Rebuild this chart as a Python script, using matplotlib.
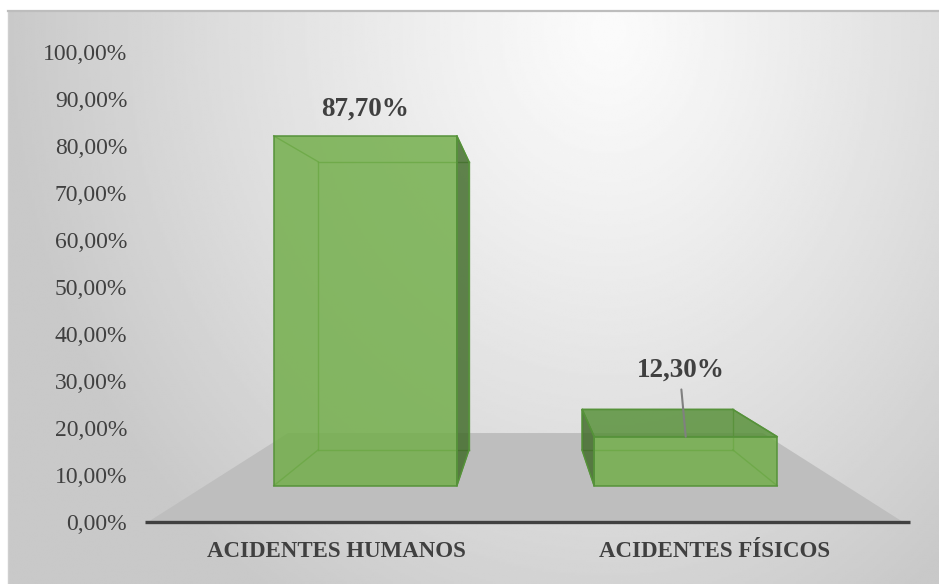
import numpy as np
import matplotlib
matplotlib.use("Agg")
import matplotlib.pyplot as plt
from matplotlib.patches import Polygon

plt.rcParams["font.family"] = ["Liberation Serif", "DejaVu Serif"]

# ---- data ----
categories = ["ACIDENTES HUMANOS", "ACIDENTES FÍSICOS"]
values = [87.70, 12.30]
y_ticks = [0, 10, 20, 30, 40, 50, 60, 70, 80, 90, 100]

# ---- 3D look (perspective) ----
VP_X, VP_Y = 1.0, 51.0          # vanishing point in data units
FLOOR_DEPTH = 0.59
BAR_Z = (0.178, 0.431)           # front / back depth of each bar
GAP_WIDTH = 0.75                 # gap between bars, fraction of bar width

FACE = "#70AD47"
SIDE = "#3f6a27"
TOP = "#558f36"
EDGE = "#56923a"
TEXT = "#404040"

W, H = 939, 584
fig = plt.figure(figsize=(W / 100, H / 100), dpi=100)
fig.patch.set_facecolor("white")


def px_rect(x0, y0, x1, y1):
    return [x0 / W, 1 - y1 / H, (x1 - x0) / W, (y1 - y0) / H]


# ---- chart area background (soft gradient, brightest at top centre) ----
bg = fig.add_axes(px_rect(8, 11, W, H))
gy, gx = np.mgrid[11:H:300j, 8:W:400j]
rx = np.where(gx < 610, 600.0, 520.0)
r = np.sqrt(((gx - 610) / rx) ** 2 + ((gy - 30) / 680) ** 2)
shade = 251 - 50 * np.clip(r, 0, 1) ** 1.15
bg.imshow(shade, cmap="gray", vmin=0, vmax=255, aspect="auto",
          extent=(8, W, H, 11), interpolation="bilinear")
bg.set_xticks([])
bg.set_yticks([])
for side in ("right", "bottom"):
    bg.spines[side].set_visible(False)
bg.spines["top"].set_color("#bdbdbd")
bg.spines["top"].set_linewidth(1.6)
bg.spines["left"].set_color("#cfcfcf")
bg.spines["left"].set_linewidth(1.0)

# ---- plot axes ----
ax = fig.add_axes(px_rect(148, 52, 903, 522))
ax.set_facecolor("none")
ax.set_xlim(0, 2)
ax.set_ylim(0, 100)
for s in ax.spines.values():
    s.set_visible(False)

ax.set_yticks(y_ticks)
ax.set_yticklabels([f"{v:.2f}".replace(".", ",") + "%" for v in y_ticks])
ax.tick_params(axis="y", length=0, pad=15, labelsize=17, labelcolor=TEXT)

xpos = np.arange(len(categories)) + 0.5
ax.set_xticks(xpos)
ax.set_xticklabels(categories, fontweight="bold")
ax.tick_params(axis="x", length=0, pad=14, labelsize=16.5, labelcolor=TEXT)


def proj(x, y, z):
    s = 1.0 / (1.0 + z)
    return VP_X + (x - VP_X) * s, VP_Y + (y - VP_Y) * s


# floor
floor = [proj(0, 0, 0), proj(2, 0, 0), proj(2, 0, FLOOR_DEPTH), proj(0, 0, FLOOR_DEPTH)]
ax.add_patch(Polygon(floor, closed=True, facecolor="#bebebe", edgecolor="none",
                     zorder=1, clip_on=False))

# axis line
ax.plot([-0.008, 2.018], [0, 0], color="#404040", lw=2.4, zorder=6,
        solid_capstyle="butt", clip_on=False)

half = 0.5 / (1 + GAP_WIDTH)
z0, z1 = BAR_Z
for c, v in zip(xpos, values):
    x0, x1 = c - half, c + half
    corners = {(i, j, k): proj((x0, x1)[i], (0, v)[j], (z0, z1)[k])
               for i in (0, 1) for j in (0, 1) for k in (0, 1)}

    def quad(keys):
        return [corners[k] for k in keys]

    # edges seen through the translucent box
    hidden = [((0, 0, 1), (1, 0, 1)), ((0, 1, 1), (1, 1, 1)),
              ((0, 0, 1), (0, 1, 1)), ((1, 0, 1), (1, 1, 1)),
              ((0, 0, 0), (0, 0, 1)), ((1, 0, 0), (1, 0, 1)),
              ((0, 1, 0), (0, 1, 1)), ((1, 1, 0), (1, 1, 1))]
    for a, b in hidden:
        pa, pb = corners[a], corners[b]
        ax.plot([pa[0], pb[0]], [pa[1], pb[1]], color=EDGE, lw=1.0,
                alpha=0.8, zorder=2, clip_on=False)

    faces = []
    if x1 < VP_X:
        faces.append((quad([(1, 0, 0), (1, 1, 0), (1, 1, 1), (1, 0, 1)]), SIDE))
    if x0 > VP_X:
        faces.append((quad([(0, 0, 0), (0, 1, 0), (0, 1, 1), (0, 0, 1)]), SIDE))
    if v < VP_Y:
        faces.append((quad([(0, 1, 0), (1, 1, 0), (1, 1, 1), (0, 1, 1)]), TOP))
    faces.append((quad([(0, 0, 0), (1, 0, 0), (1, 1, 0), (0, 1, 0)]), FACE))
    for pts, col in faces:
        ax.add_patch(Polygon(pts, closed=True, facecolor=col, alpha=0.82,
                             edgecolor="none", zorder=3, clip_on=False))
        ax.add_patch(Polygon(pts, closed=True, facecolor="none", edgecolor=EDGE,
                             lw=1.1, zorder=4, clip_on=False))

# ---- value labels ----
label_offsets = [(0, 19.5), (-3.6, 48)]  # points, relative to the bar's front-top centre
for c, v, off in zip(xpos, values, label_offsets):
    anchor = proj(c, v, z0)
    leader = None
    if off[1] > 30:
        leader = dict(arrowstyle="-", color="#808080", lw=1.5,
                      shrinkA=3, shrinkB=0, relpos=(0.5, 0.0))
    ax.annotate(f"{v:.2f}".replace(".", ",") + "%", xy=anchor, xytext=off,
                textcoords="offset points", ha="center", va="center",
                fontsize=19.5, fontweight="bold", color=TEXT,
                arrowprops=leader, zorder=7, annotation_clip=False)

fig.savefig("out.png", dpi=100)
